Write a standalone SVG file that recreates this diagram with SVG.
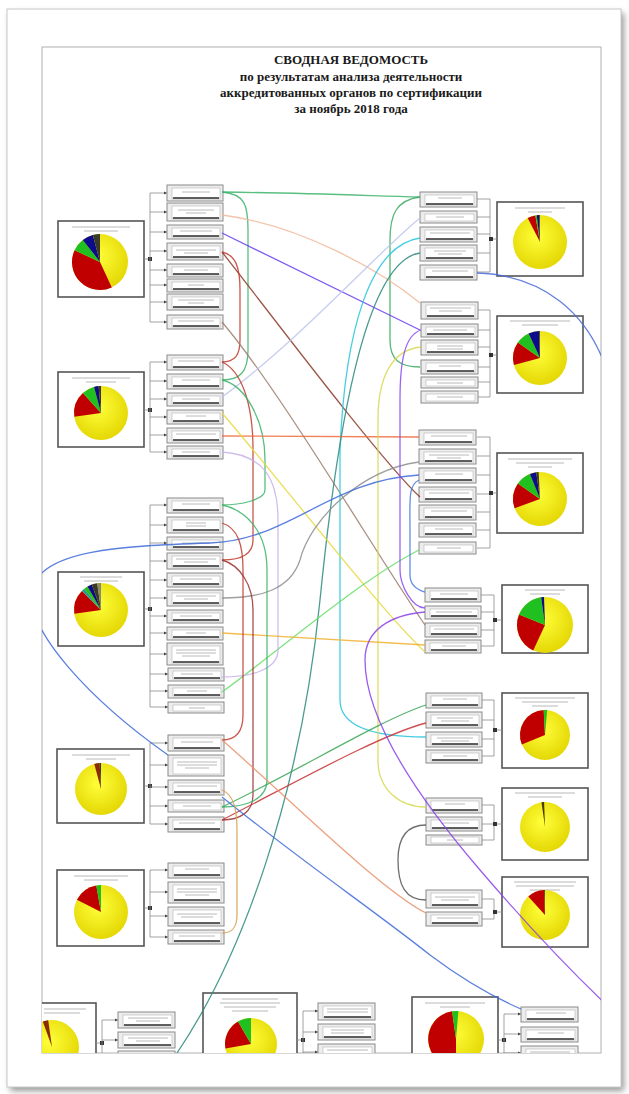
<svg xmlns="http://www.w3.org/2000/svg" width="629" height="1094" viewBox="0 0 629 1094">
<defs>
<style>
.lb{fill:#ededed;stroke:#8a8a8a;stroke-width:1}
.lbi{fill:#fff;stroke:#b4b4b4;stroke-width:.6}
.ul{stroke:#2b2b2b;stroke-width:1.4}
.tx{stroke:#a8a8a8;stroke-width:.8}
.pb{fill:#fff;stroke:#555;stroke-width:1.6}
.tt{stroke:#b8b8b8;stroke-width:1}
.br{fill:none;stroke:#8c8c8c;stroke-width:.8}
.bh{stroke:#8c8c8c;stroke-width:.8;marker-end:url(#ah)}
.sq{fill:#333}
.c{fill:none;stroke-width:1.3;opacity:.85}
.y{fill:url(#yg)}
.r{fill:#c00000}
.g{fill:#21c021}
.n{fill:#0b0b8c}
.d{fill:#3a3a2a}
.t{fill:#2a9a9a}
.bw{fill:#8b2a00}
</style>
<radialGradient id="yg" cx="0.45" cy="0.4" r="0.65">
<stop offset="0" stop-color="#ffff3a"/>
<stop offset="1" stop-color="#e2d400"/>
</radialGradient>
<marker id="ah" viewBox="0 0 6 6" refX="6" refY="3" markerWidth="4" markerHeight="4" orient="auto">
<path d="M0,0 L6,3 L0,6 Z" fill="#444"/>
</marker>
<filter id="sh" x="-5%" y="-5%" width="110%" height="110%">
<feGaussianBlur stdDeviation="3"/>
</filter>
<clipPath id="fc"><rect x="42" y="47" width="559" height="1006"/></clipPath>
</defs>

<rect width="629" height="1094" fill="#fff"/>
<rect x="10" y="13" width="614" height="1078" fill="#9a9a9a" filter="url(#sh)"/>
<rect x="7" y="9" width="614" height="1078" fill="#fff" stroke="#c8c8c8"/>
<rect x="42" y="47" width="559" height="1006" fill="#fff" stroke="#b0b0b0"/>

<g id="title" font-family="Liberation Serif, serif" font-weight="bold" fill="#1a1a1a" text-anchor="middle">
<text x="351" y="64" font-size="13">СВОДНАЯ ВЕДОМОСТЬ</text>
<text x="351" y="81" font-size="13">по результатам анализа деятельности</text>
<text x="351" y="97" font-size="13">аккредитованных органов по сертификации</text>
<text x="351" y="113" font-size="13">за ноябрь 2018 года</text>
</g>

<g clip-path="url(#fc)">
<!-- ===== Left pie nodes ===== -->
<g id="pieL1">
<rect class="pb" x="58" y="221" width="86" height="76"/>
<line class="tt" x1="72" y1="227" x2="130" y2="227"/><line class="tt" x1="84" y1="231" x2="118" y2="231"/>
<circle class="y" cx="100" cy="262" r="28"/>
<path class="r" d="M100,262 L111.8,287.4 A28,28 0 0 1 74.6,250.2 Z"/>
<path class="g" d="M100,262 L74.6,250.2 A28,28 0 0 1 82.8,239.9 Z"/>
<path class="n" d="M100,262 L82.8,239.9 A28,28 0 0 1 92.8,235 Z"/>
<path class="d" d="M100,262 L92.8,235 A28,28 0 0 1 100,234 Z"/>
</g>
<g id="pieL2">
<rect class="pb" x="58" y="372" width="86" height="75"/>
<line class="tt" x1="72" y1="378" x2="130" y2="378"/><line class="tt" x1="86" y1="382" x2="116" y2="382"/>
<circle class="y" cx="101" cy="413" r="27"/>
<path class="r" d="M101,413 L74.3,416.8 A27,27 0 0 1 82.9,392.9 Z"/>
<path class="g" d="M101,413 L82.9,392.9 A27,27 0 0 1 94,386.9 Z"/>
<path class="n" d="M101,413 L94,386.9 A27,27 0 0 1 98.6,386.1 Z"/>
<path class="d" d="M101,413 L98.6,386.1 A27,27 0 0 1 101,386 Z"/>
</g>
<g id="pieL3">
<rect class="pb" x="58" y="572" width="86" height="74"/>
<line class="tt" x1="80" y1="577" x2="122" y2="577"/><line class="tt" x1="84" y1="581" x2="118" y2="581"/>
<circle class="y" cx="101" cy="610" r="27"/>
<path class="r" d="M101,610 L74.3,613.8 A27,27 0 0 1 81.9,590.9 Z"/>
<path class="t" d="M101,610 L81.9,590.9 A27,27 0 0 1 84.4,588.7 Z"/>
<path class="g" d="M101,610 L84.4,588.7 A27,27 0 0 1 87.5,586.6 Z"/>
<path class="n" d="M101,610 L87.5,586.6 A27,27 0 0 1 91.8,584.6 Z"/>
<path class="d" d="M101,610 L91.8,584.6 A27,27 0 0 1 97.2,583.3 Z"/>
<path fill="#8a8a70" d="M101,610 L97.2,583.3 A27,27 0 0 1 101,583 Z"/>
</g>
<g id="pieL4">
<rect class="pb" x="57" y="749" width="87" height="74"/>
<line class="tt" x1="72" y1="755" x2="130" y2="755"/><line class="tt" x1="86" y1="759" x2="116" y2="759"/>
<circle class="y" cx="101" cy="789" r="26"/>
<path class="bw" d="M101,789 L94.3,763.9 A26,26 0 0 1 99.6,763 Z"/>
<path class="d" d="M101,789 L99.6,763 A26,26 0 0 1 101,763 Z"/>
</g>
<g id="pieL5">
<rect class="pb" x="57" y="870" width="87" height="76"/>
<line class="tt" x1="74" y1="876" x2="128" y2="876"/><line class="tt" x1="84" y1="880" x2="118" y2="880"/>
<circle class="y" cx="101" cy="912" r="27"/>
<path class="r" d="M101,912 L76.9,899.7 A27,27 0 0 1 96.3,885.4 Z"/>
<path class="g" d="M101,912 L96.3,885.4 A27,27 0 0 1 101,885 Z"/>
</g>

<!-- ===== Right pie nodes ===== -->
<g id="pieR1">
<rect class="pb" x="497" y="202" width="86" height="74"/>
<line class="tt" x1="515" y1="208" x2="565" y2="208"/><line class="tt" x1="528" y1="212" x2="552" y2="212"/>
<circle class="y" cx="540" cy="242" r="27"/>
<path class="r" d="M540,242 L527.7,217.9 A27,27 0 0 1 535.3,215.4 Z"/>
<path class="g" d="M540,242 L535.3,215.4 A27,27 0 0 1 536.7,215.2 Z"/>
<path class="n" d="M540,242 L536.7,215.2 A27,27 0 0 1 539.1,215 Z"/>
<path class="d" d="M540,242 L539.1,215 A27,27 0 0 1 540,215 Z"/>
</g>
<g id="pieR2">
<rect class="pb" x="497" y="316" width="86" height="77"/>
<line class="tt" x1="510" y1="321" x2="570" y2="321"/><line class="tt" x1="522" y1="325" x2="558" y2="325"/>
<circle class="y" cx="540" cy="358" r="27"/>
<path class="r" d="M540,358 L513.9,365 A27,27 0 0 1 517.9,342.5 Z"/>
<path class="g" d="M540,358 L517.9,342.5 A27,27 0 0 1 528.6,333.5 Z"/>
<path class="n" d="M540,358 L528.6,333.5 A27,27 0 0 1 539.1,331 Z"/>
<path class="d" d="M540,358 L539.1,331 A27,27 0 0 1 540,331 Z"/>
</g>
<g id="pieR3">
<rect class="pb" x="497" y="453" width="86" height="80"/>
<line class="tt" x1="508" y1="459" x2="572" y2="459"/><line class="tt" x1="516" y1="463" x2="564" y2="463"/><line class="tt" x1="528" y1="467" x2="552" y2="467"/>
<circle class="y" cx="540" cy="499" r="27"/>
<path class="r" d="M540,499 L514.6,508.2 A27,27 0 0 1 517.9,483.5 Z"/>
<path class="g" d="M540,499 L517.9,483.5 A27,27 0 0 1 529.9,474 Z"/>
<path class="n" d="M540,499 L529.9,474 A27,27 0 0 1 536.2,472.3 Z"/>
<path class="d" d="M540,499 L536.2,472.3 A27,27 0 0 1 538.6,472 Z"/>
</g>
<g id="pieR4">
<rect class="pb" x="502" y="585" width="86" height="68"/>
<line class="tt" x1="525" y1="590" x2="565" y2="590"/><line class="tt" x1="530" y1="594" x2="560" y2="594"/>
<circle class="y" cx="545" cy="625" r="28"/>
<path class="r" d="M545,625 L533.2,650.4 A28,28 0 0 1 519,614.5 Z"/>
<path class="g" d="M545,625 L519,614.5 A28,28 0 0 1 541.1,597.3 Z"/>
<path class="n" d="M545,625 L541.1,597.3 A28,28 0 0 1 544,597 Z"/>
</g>
<g id="pieR5">
<rect class="pb" x="502" y="693" width="86" height="75"/>
<line class="tt" x1="515" y1="698" x2="575" y2="698"/><line class="tt" x1="522" y1="702" x2="568" y2="702"/><line class="tt" x1="532" y1="706" x2="558" y2="706"/>
<circle class="y" cx="545" cy="735" r="25"/>
<path class="r" d="M545,735 L521.8,744.4 A25,25 0 0 1 543.7,710 Z"/>
<path class="g" d="M545,735 L543.7,710 A25,25 0 0 1 547.2,710.1 Z"/>
</g>
<g id="pieR6">
<rect class="pb" x="502" y="788" width="86" height="72"/>
<line class="tt" x1="515" y1="793" x2="575" y2="793"/><line class="tt" x1="528" y1="797" x2="562" y2="797"/>
<circle class="y" cx="545" cy="827" r="25"/>
<path fill="#4a3a00" d="M545,827 L541.5,802.2 A25,25 0 0 1 544.1,802 Z"/>
</g>
<g id="pieR7">
<rect class="pb" x="502" y="877" width="86" height="70"/>
<line class="tt" x1="514" y1="882" x2="576" y2="882"/><line class="tt" x1="516" y1="886" x2="574" y2="886"/><line class="tt" x1="530" y1="890" x2="560" y2="890"/>
<circle class="y" cx="545" cy="915" r="25"/>
<path class="r" d="M545,915 L528.3,896.4 A25,25 0 0 1 544.1,890 Z"/>
<path class="d" d="M545,915 L544.1,890 A25,25 0 0 1 545,890 Z"/>
</g>

<!-- ===== Bottom pie nodes ===== -->
<g id="pieB1">
<rect class="pb" x="10" y="1003" width="86" height="70"/>
<line class="tt" x1="44" y1="1009" x2="86" y2="1009"/><line class="tt" x1="44" y1="1013" x2="80" y2="1013"/>
<circle class="y" cx="52" cy="1047" r="27"/>
<path class="bw" d="M52,1047 L42.8,1021.6 A27,27 0 0 1 48.2,1020.3 Z"/>
</g>
<g id="pieB2">
<rect class="pb" x="203" y="993" width="94" height="80"/>
<line class="tt" x1="222" y1="999" x2="278" y2="999"/><line class="tt" x1="220" y1="1003" x2="280" y2="1003"/><line class="tt" x1="224" y1="1007" x2="276" y2="1007"/><line class="tt" x1="232" y1="1011" x2="268" y2="1011"/>
<circle class="y" cx="251" cy="1044" r="26"/>
<path class="r" d="M251,1044 L225.4,1048.5 A26,26 0 0 1 238,1021.5 Z"/>
<path class="g" d="M251,1044 L238,1021.5 A26,26 0 0 1 251,1018 Z"/>
</g>
<g id="pieB3">
<rect class="pb" x="412" y="997" width="86" height="76"/>
<line class="tt" x1="425" y1="1003" x2="485" y2="1003"/><line class="tt" x1="440" y1="1007" x2="470" y2="1007"/>
<circle class="y" cx="456" cy="1039" r="28"/>
<path class="r" d="M456,1039 L456,1067 A28,28 0 0 1 452.1,1011.3 Z"/>
<path class="g" d="M456,1039 L452.1,1011.3 A28,28 0 0 1 458.4,1011.1 Z"/>
</g>

<!-- ===== Brackets ===== -->
<g id="brackets">
<line class="br" x1="144" y1="259" x2="150" y2="259"/><rect class="sq" x="148" y="257" width="4" height="4"/>
<line class="br" x1="150" y1="193" x2="150" y2="322"/>
<line class="bh" x1="150" y1="193" x2="167" y2="193"/><line class="bh" x1="150" y1="212" x2="167" y2="212"/><line class="bh" x1="150" y1="232" x2="167" y2="232"/><line class="bh" x1="150" y1="251" x2="167" y2="251"/><line class="bh" x1="150" y1="270" x2="167" y2="270"/><line class="bh" x1="150" y1="285" x2="167" y2="285"/><line class="bh" x1="150" y1="302" x2="167" y2="302"/><line class="bh" x1="150" y1="322" x2="167" y2="322"/>

<line class="br" x1="144" y1="410" x2="150" y2="410"/><rect class="sq" x="148" y="408" width="4" height="4"/>
<line class="br" x1="150" y1="362" x2="150" y2="452"/>
<line class="bh" x1="150" y1="362" x2="167" y2="362"/><line class="bh" x1="150" y1="381" x2="167" y2="381"/><line class="bh" x1="150" y1="399" x2="167" y2="399"/><line class="bh" x1="150" y1="417" x2="167" y2="417"/><line class="bh" x1="150" y1="435" x2="167" y2="435"/><line class="bh" x1="150" y1="452" x2="167" y2="452"/>

<line class="br" x1="144" y1="609" x2="150" y2="609"/><rect class="sq" x="148" y="607" width="4" height="4"/>
<line class="br" x1="150" y1="505" x2="150" y2="707"/>
<line class="bh" x1="150" y1="505" x2="167" y2="505"/><line class="bh" x1="150" y1="525" x2="167" y2="525"/><line class="bh" x1="150" y1="543" x2="167" y2="543"/><line class="bh" x1="150" y1="561" x2="167" y2="561"/><line class="bh" x1="150" y1="580" x2="167" y2="580"/><line class="bh" x1="150" y1="598" x2="167" y2="598"/><line class="bh" x1="150" y1="616" x2="167" y2="616"/><line class="bh" x1="150" y1="633" x2="167" y2="633"/><line class="bh" x1="150" y1="654" x2="167" y2="654"/><line class="bh" x1="150" y1="674" x2="168" y2="674"/><line class="bh" x1="150" y1="691" x2="168" y2="691"/><line class="bh" x1="150" y1="707" x2="168" y2="707"/>

<line class="br" x1="144" y1="786" x2="150" y2="786"/><rect class="sq" x="148" y="784" width="4" height="4"/>
<line class="br" x1="150" y1="743" x2="150" y2="824"/>
<line class="bh" x1="150" y1="743" x2="168" y2="743"/><line class="bh" x1="150" y1="765" x2="168" y2="765"/><line class="bh" x1="150" y1="787" x2="168" y2="787"/><line class="bh" x1="150" y1="806" x2="168" y2="806"/><line class="bh" x1="150" y1="824" x2="168" y2="824"/>

<line class="br" x1="144" y1="908" x2="150" y2="908"/><rect class="sq" x="148" y="906" width="4" height="4"/>
<line class="br" x1="150" y1="870" x2="150" y2="937"/>
<line class="bh" x1="150" y1="870" x2="168" y2="870"/><line class="bh" x1="150" y1="892" x2="168" y2="892"/><line class="bh" x1="150" y1="916" x2="168" y2="916"/><line class="bh" x1="150" y1="937" x2="168" y2="937"/>

<line class="br" x1="477" y1="199" x2="490" y2="199"/><line class="br" x1="477" y1="217" x2="490" y2="217"/><line class="br" x1="477" y1="234" x2="490" y2="234"/><line class="br" x1="477" y1="253" x2="490" y2="253"/><line class="br" x1="477" y1="272" x2="490" y2="272"/>
<line class="br" x1="490" y1="199" x2="490" y2="272"/><line class="br" x1="490" y1="239" x2="497" y2="239"/><rect class="sq" x="489" y="237" width="4" height="4"/>

<line class="br" x1="477" y1="310" x2="490" y2="310"/><line class="br" x1="477" y1="330" x2="490" y2="330"/><line class="br" x1="477" y1="347" x2="490" y2="347"/><line class="br" x1="477" y1="367" x2="490" y2="367"/><line class="br" x1="477" y1="382" x2="490" y2="382"/><line class="br" x1="477" y1="397" x2="490" y2="397"/>
<line class="br" x1="490" y1="310" x2="490" y2="397"/><line class="br" x1="490" y1="355" x2="497" y2="355"/><rect class="sq" x="489" y="353" width="4" height="4"/>

<line class="br" x1="477" y1="437" x2="490" y2="437"/><line class="br" x1="477" y1="456" x2="490" y2="456"/><line class="br" x1="477" y1="475" x2="490" y2="475"/><line class="br" x1="477" y1="494" x2="490" y2="494"/><line class="br" x1="477" y1="512" x2="490" y2="512"/><line class="br" x1="477" y1="530" x2="490" y2="530"/><line class="br" x1="477" y1="548" x2="490" y2="548"/>
<line class="br" x1="490" y1="437" x2="490" y2="548"/><line class="br" x1="490" y1="493" x2="497" y2="493"/><rect class="sq" x="489" y="491" width="4" height="4"/>

<line class="br" x1="481" y1="595" x2="494" y2="595"/><line class="br" x1="481" y1="612" x2="494" y2="612"/><line class="br" x1="481" y1="630" x2="494" y2="630"/><line class="br" x1="481" y1="646" x2="494" y2="646"/>
<line class="br" x1="494" y1="595" x2="494" y2="646"/><line class="br" x1="494" y1="620" x2="502" y2="620"/><rect class="sq" x="493" y="618" width="4" height="4"/>

<line class="br" x1="482" y1="700" x2="494" y2="700"/><line class="br" x1="482" y1="720" x2="494" y2="720"/><line class="br" x1="482" y1="739" x2="494" y2="739"/><line class="br" x1="482" y1="756" x2="494" y2="756"/>
<line class="br" x1="494" y1="700" x2="494" y2="756"/><line class="br" x1="494" y1="730" x2="502" y2="730"/><rect class="sq" x="493" y="728" width="4" height="4"/>

<line class="br" x1="482" y1="805" x2="494" y2="805"/><line class="br" x1="482" y1="824" x2="494" y2="824"/><line class="br" x1="482" y1="840" x2="494" y2="840"/>
<line class="br" x1="494" y1="805" x2="494" y2="840"/><line class="br" x1="494" y1="824" x2="502" y2="824"/><rect class="sq" x="493" y="822" width="4" height="4"/>

<line class="br" x1="482" y1="899" x2="494" y2="899"/><line class="br" x1="482" y1="919" x2="494" y2="919"/>
<line class="br" x1="494" y1="899" x2="494" y2="919"/><line class="br" x1="494" y1="912" x2="502" y2="912"/><rect class="sq" x="493" y="910" width="4" height="4"/>

<line class="br" x1="96" y1="1043" x2="102" y2="1043"/><rect class="sq" x="100" y="1041" width="4" height="4"/>
<line class="br" x1="102" y1="1020" x2="102" y2="1060"/>
<line class="bh" x1="102" y1="1020" x2="118" y2="1020"/><line class="bh" x1="102" y1="1040" x2="118" y2="1040"/>
<line class="br" x1="297" y1="1040" x2="303" y2="1040"/><rect class="sq" x="301" y="1038" width="4" height="4"/>
<line class="br" x1="303" y1="1011" x2="303" y2="1060"/>
<line class="bh" x1="303" y1="1011" x2="318" y2="1011"/><line class="bh" x1="303" y1="1032" x2="318" y2="1032"/><line class="bh" x1="303" y1="1052" x2="318" y2="1052"/>
<line class="br" x1="498" y1="1040" x2="504" y2="1040"/><rect class="sq" x="502" y="1038" width="4" height="4"/>
<line class="br" x1="504" y1="1014" x2="504" y2="1060"/>
<line class="bh" x1="504" y1="1014" x2="521" y2="1014"/><line class="bh" x1="504" y1="1034" x2="521" y2="1034"/><line class="bh" x1="504" y1="1053" x2="521" y2="1053"/>
</g>

<!-- ===== List boxes, left ===== -->
<g id="listL1">
<g id="L1a"><rect class="lb" x="167" y="185" width="56" height="16"/><rect class="lbi" x="172" y="188" width="48" height="11"/><line class="tx" x1="182" y1="192" x2="210" y2="192"/><line class="ul" x1="173" y1="198" x2="219" y2="198"/></g>
<g id="L1b"><rect class="lb" x="167" y="203" width="56" height="18"/><rect class="lbi" x="172" y="206" width="48" height="13"/><line class="tx" x1="178" y1="210" x2="214" y2="210"/><line class="tx" x1="186" y1="213" x2="206" y2="213"/><line class="ul" x1="173" y1="218" x2="219" y2="218"/></g>
<g id="L1c"><rect class="lb" x="167" y="225" width="56" height="14"/><rect class="lbi" x="172" y="228" width="48" height="9"/><line class="tx" x1="180" y1="231" x2="212" y2="231"/><line class="ul" x1="173" y1="236" x2="219" y2="236"/></g>
<g id="L1d"><rect class="lb" x="167" y="243" width="56" height="17"/><rect class="lbi" x="172" y="246" width="48" height="12"/><line class="tx" x1="176" y1="250" x2="216" y2="250"/><line class="tx" x1="184" y1="253" x2="208" y2="253"/><line class="ul" x1="173" y1="257" x2="219" y2="257"/></g>
<g id="L1e"><rect class="lb" x="167" y="264" width="56" height="13"/><rect class="lbi" x="172" y="267" width="48" height="8"/><line class="tx" x1="184" y1="270" x2="208" y2="270"/><line class="ul" x1="173" y1="274" x2="219" y2="274"/></g>
<g id="L1f"><rect class="lb" x="167" y="279" width="56" height="13"/><rect class="lbi" x="172" y="282" width="48" height="8"/><line class="tx" x1="188" y1="285" x2="204" y2="285"/><line class="ul" x1="173" y1="289" x2="219" y2="289"/></g>
<g id="L1g"><rect class="lb" x="167" y="294" width="56" height="16"/><rect class="lbi" x="172" y="297" width="48" height="11"/><line class="tx" x1="178" y1="300" x2="214" y2="300"/><line class="tx" x1="188" y1="303" x2="204" y2="303"/><line class="ul" x1="173" y1="307" x2="219" y2="307"/></g>
<g id="L1h"><rect class="lb" x="167" y="315" width="56" height="14"/><rect class="lbi" x="172" y="318" width="48" height="9"/><line class="tx" x1="178" y1="321" x2="214" y2="321"/><line class="ul" x1="173" y1="326" x2="219" y2="326"/></g>
</g>
<g id="listL2">
<g><rect class="lb" x="167" y="355" width="56" height="15"/><rect class="lbi" x="172" y="358" width="48" height="10"/><line class="tx" x1="178" y1="361" x2="214" y2="361"/><line class="ul" x1="173" y1="367" x2="219" y2="367"/></g>
<g><rect class="lb" x="167" y="374" width="56" height="15"/><rect class="lbi" x="172" y="377" width="48" height="10"/><line class="tx" x1="182" y1="380" x2="210" y2="380"/><line class="ul" x1="173" y1="386" x2="219" y2="386"/></g>
<g><rect class="lb" x="167" y="393" width="56" height="13"/><rect class="lbi" x="172" y="396" width="48" height="8"/><line class="tx" x1="182" y1="399" x2="210" y2="399"/><line class="ul" x1="173" y1="403" x2="219" y2="403"/></g>
<g><rect class="lb" x="167" y="410" width="56" height="14"/><rect class="lbi" x="172" y="413" width="48" height="9"/><line class="tx" x1="186" y1="416" x2="206" y2="416"/><line class="ul" x1="173" y1="421" x2="219" y2="421"/></g>
<g><rect class="lb" x="167" y="428" width="56" height="15"/><rect class="lbi" x="172" y="431" width="48" height="10"/><line class="tx" x1="176" y1="434" x2="216" y2="434"/><line class="ul" x1="173" y1="440" x2="219" y2="440"/></g>
<g><rect class="lb" x="167" y="446" width="56" height="13"/><rect class="lbi" x="172" y="449" width="48" height="8"/><line class="tx" x1="182" y1="452" x2="210" y2="452"/><line class="ul" x1="173" y1="456" x2="219" y2="456"/></g>
</g>
<g id="listL3">
<g><rect class="lb" x="167" y="498" width="56" height="15"/><rect class="lbi" x="172" y="501" width="48" height="10"/><line class="tx" x1="182" y1="504" x2="210" y2="504"/><line class="ul" x1="173" y1="510" x2="219" y2="510"/></g>
<g><rect class="lb" x="167" y="517" width="56" height="16"/><rect class="lbi" x="172" y="520" width="48" height="11"/><line class="tx" x1="186" y1="523" x2="206" y2="523"/><line class="tx" x1="186" y1="526" x2="206" y2="526"/><line class="ul" x1="173" y1="530" x2="219" y2="530"/></g>
<g><rect class="lb" x="167" y="537" width="56" height="13"/><rect class="lbi" x="172" y="540" width="48" height="8"/><line class="tx" x1="182" y1="543" x2="210" y2="543"/><line class="ul" x1="173" y1="547" x2="219" y2="547"/></g>
<g><rect class="lb" x="167" y="553" width="56" height="16"/><rect class="lbi" x="172" y="556" width="48" height="11"/><line class="tx" x1="176" y1="559" x2="216" y2="559"/><line class="tx" x1="184" y1="562" x2="208" y2="562"/><line class="ul" x1="173" y1="566" x2="219" y2="566"/></g>
<g><rect class="lb" x="167" y="573" width="56" height="14"/><rect class="lbi" x="172" y="576" width="48" height="9"/><line class="tx" x1="180" y1="579" x2="212" y2="579"/><line class="ul" x1="173" y1="584" x2="219" y2="584"/></g>
<g><rect class="lb" x="167" y="590" width="56" height="16"/><rect class="lbi" x="172" y="593" width="48" height="11"/><line class="tx" x1="176" y1="596" x2="216" y2="596"/><line class="tx" x1="184" y1="599" x2="208" y2="599"/><line class="ul" x1="173" y1="603" x2="219" y2="603"/></g>
<g><rect class="lb" x="167" y="610" width="56" height="13"/><rect class="lbi" x="172" y="613" width="48" height="8"/><line class="tx" x1="180" y1="616" x2="212" y2="616"/><line class="ul" x1="173" y1="620" x2="219" y2="620"/></g>
<g><rect class="lb" x="167" y="627" width="56" height="13"/><rect class="lbi" x="172" y="630" width="48" height="8"/><line class="tx" x1="186" y1="633" x2="206" y2="633"/><line class="ul" x1="173" y1="637" x2="219" y2="637"/></g>
<g><rect class="lb" x="167" y="643" width="56" height="22"/><rect class="lbi" x="172" y="646" width="48" height="17"/><line class="tx" x1="176" y1="650" x2="216" y2="650"/><line class="tx" x1="176" y1="653" x2="216" y2="653"/><line class="tx" x1="182" y1="656" x2="210" y2="656"/><line class="ul" x1="173" y1="662" x2="219" y2="662"/></g>
<g><rect class="lb" x="168" y="668" width="56" height="13"/><rect class="lbi" x="173" y="671" width="48" height="8"/><line class="tx" x1="181" y1="674" x2="213" y2="674"/><line class="ul" x1="174" y1="678" x2="220" y2="678"/></g>
<g><rect class="lb" x="168" y="685" width="56" height="13"/><rect class="lbi" x="173" y="688" width="48" height="8"/><line class="tx" x1="187" y1="691" x2="207" y2="691"/><line class="ul" x1="174" y1="695" x2="220" y2="695"/></g>
<g><rect class="lb" x="168" y="702" width="56" height="11"/><rect class="lbi" x="173" y="705" width="48" height="6"/><line class="tx" x1="189" y1="708" x2="205" y2="708"/></g>
</g>
<g id="listL4">
<g><rect class="lb" x="168" y="735" width="56" height="16"/><rect class="lbi" x="173" y="738" width="48" height="11"/><line class="tx" x1="181" y1="742" x2="213" y2="742"/><line class="ul" x1="174" y1="748" x2="220" y2="748"/></g>
<g><rect class="lb" x="168" y="755" width="56" height="21"/><rect class="lbi" x="173" y="758" width="48" height="16"/><line class="tx" x1="177" y1="762" x2="217" y2="762"/><line class="tx" x1="177" y1="765" x2="217" y2="765"/><line class="tx" x1="185" y1="768" x2="209" y2="768"/></g>
<g><rect class="lb" x="168" y="780" width="56" height="15"/><rect class="lbi" x="173" y="783" width="48" height="10"/><line class="tx" x1="177" y1="786" x2="217" y2="786"/><line class="ul" x1="174" y1="792" x2="220" y2="792"/></g>
<g><rect class="lb" x="168" y="800" width="56" height="12"/><rect class="lbi" x="173" y="803" width="48" height="7"/><line class="tx" x1="183" y1="806" x2="211" y2="806"/></g>
<g><rect class="lb" x="168" y="817" width="56" height="15"/><rect class="lbi" x="173" y="820" width="48" height="10"/><line class="tx" x1="179" y1="823" x2="215" y2="823"/><line class="ul" x1="174" y1="829" x2="220" y2="829"/></g>
</g>
<g id="listL5">
<g><rect class="lb" x="168" y="863" width="56" height="15"/><rect class="lbi" x="173" y="866" width="48" height="10"/><line class="tx" x1="185" y1="869" x2="209" y2="869"/><line class="ul" x1="174" y1="875" x2="220" y2="875"/></g>
<g><rect class="lb" x="168" y="882" width="56" height="21"/><rect class="lbi" x="173" y="885" width="48" height="16"/><line class="tx" x1="177" y1="889" x2="217" y2="889"/><line class="tx" x1="177" y1="892" x2="217" y2="892"/><line class="tx" x1="185" y1="895" x2="209" y2="895"/><line class="ul" x1="174" y1="900" x2="220" y2="900"/></g>
<g><rect class="lb" x="168" y="907" width="56" height="19"/><rect class="lbi" x="173" y="910" width="48" height="14"/><line class="tx" x1="177" y1="914" x2="217" y2="914"/><line class="tx" x1="181" y1="917" x2="213" y2="917"/><line class="ul" x1="174" y1="923" x2="220" y2="923"/></g>
<g><rect class="lb" x="168" y="930" width="56" height="14"/><rect class="lbi" x="173" y="933" width="48" height="9"/><line class="tx" x1="179" y1="936" x2="215" y2="936"/><line class="ul" x1="174" y1="941" x2="220" y2="941"/></g>
</g>

<!-- ===== List boxes, right ===== -->
<g id="listR1">
<g><rect class="lb" x="420" y="192" width="57" height="15"/><rect class="lbi" x="425" y="195" width="49" height="10"/><line class="tx" x1="438" y1="198" x2="462" y2="198"/><line class="ul" x1="426" y1="204" x2="473" y2="204"/></g>
<g><rect class="lb" x="420" y="211" width="57" height="12"/><rect class="lbi" x="425" y="214" width="49" height="7"/><line class="tx" x1="436" y1="217" x2="464" y2="217"/></g>
<g><rect class="lb" x="420" y="227" width="57" height="15"/><rect class="lbi" x="425" y="230" width="49" height="10"/><line class="tx" x1="430" y1="233" x2="470" y2="233"/><line class="ul" x1="426" y1="239" x2="473" y2="239"/></g>
<g><rect class="lb" x="420" y="245" width="57" height="16"/><rect class="lbi" x="425" y="248" width="49" height="11"/><line class="tx" x1="434" y1="251" x2="466" y2="251"/><line class="tx" x1="438" y1="254" x2="462" y2="254"/><line class="ul" x1="426" y1="258" x2="473" y2="258"/></g>
<g><rect class="lb" x="420" y="265" width="57" height="15"/><rect class="lbi" x="425" y="268" width="49" height="10"/><line class="tx" x1="432" y1="271" x2="468" y2="271"/><line class="ul" x1="426" y1="277" x2="473" y2="277"/></g>
</g>
<g id="listR2">
<g><rect class="lb" x="421" y="302" width="57" height="17"/><rect class="lbi" x="426" y="305" width="49" height="12"/><line class="tx" x1="430" y1="308" x2="471" y2="308"/><line class="tx" x1="439" y1="311" x2="462" y2="311"/><line class="ul" x1="427" y1="316" x2="474" y2="316"/></g>
<g><rect class="lb" x="421" y="324" width="57" height="13"/><rect class="lbi" x="426" y="327" width="49" height="8"/><line class="tx" x1="433" y1="330" x2="467" y2="330"/><line class="ul" x1="427" y1="334" x2="474" y2="334"/></g>
<g><rect class="lb" x="421" y="340" width="57" height="15"/><rect class="lbi" x="426" y="343" width="49" height="10"/><line class="tx" x1="437" y1="346" x2="463" y2="346"/><line class="tx" x1="437" y1="349" x2="463" y2="349"/><line class="ul" x1="427" y1="352" x2="474" y2="352"/></g>
<g><rect class="lb" x="421" y="360" width="57" height="14"/><rect class="lbi" x="426" y="363" width="49" height="9"/><line class="tx" x1="439" y1="366" x2="461" y2="366"/><line class="ul" x1="427" y1="371" x2="474" y2="371"/></g>
<g><rect class="lb" x="421" y="377" width="57" height="11"/><rect class="lbi" x="426" y="380" width="49" height="6"/><line class="tx" x1="437" y1="383" x2="463" y2="383"/></g>
<g><rect class="lb" x="421" y="391" width="57" height="12"/><rect class="lbi" x="426" y="394" width="49" height="7"/><line class="tx" x1="437" y1="397" x2="463" y2="397"/></g>
</g>
<g id="listR3">
<g><rect class="lb" x="419" y="430" width="57" height="15"/><rect class="lbi" x="424" y="433" width="49" height="10"/><line class="tx" x1="431" y1="436" x2="467" y2="436"/><line class="ul" x1="425" y1="442" x2="472" y2="442"/></g>
<g><rect class="lb" x="419" y="449" width="57" height="15"/><rect class="lbi" x="424" y="452" width="49" height="10"/><line class="tx" x1="429" y1="455" x2="469" y2="455"/><line class="tx" x1="437" y1="458" x2="461" y2="458"/><line class="ul" x1="425" y1="461" x2="472" y2="461"/></g>
<g><rect class="lb" x="419" y="468" width="57" height="15"/><rect class="lbi" x="424" y="471" width="49" height="10"/><line class="tx" x1="435" y1="474" x2="463" y2="474"/><line class="ul" x1="425" y1="480" x2="472" y2="480"/></g>
<g><rect class="lb" x="419" y="487" width="57" height="15"/><rect class="lbi" x="424" y="490" width="49" height="10"/><line class="tx" x1="429" y1="493" x2="469" y2="493"/><line class="ul" x1="425" y1="499" x2="472" y2="499"/></g>
<g><rect class="lb" x="419" y="505" width="57" height="15"/><rect class="lbi" x="424" y="508" width="49" height="10"/><line class="tx" x1="431" y1="511" x2="467" y2="511"/><line class="ul" x1="425" y1="517" x2="472" y2="517"/></g>
<g><rect class="lb" x="419" y="523" width="57" height="14"/><rect class="lbi" x="424" y="526" width="49" height="9"/><line class="tx" x1="435" y1="529" x2="463" y2="529"/><line class="ul" x1="425" y1="534" x2="472" y2="534"/></g>
<g><rect class="lb" x="419" y="542" width="57" height="12"/><rect class="lbi" x="424" y="545" width="49" height="7"/><line class="tx" x1="437" y1="548" x2="461" y2="548"/></g>
</g>
<g id="listR4">
<g><rect class="lb" x="425" y="588" width="56" height="14"/><rect class="lbi" x="430" y="591" width="48" height="9"/><line class="tx" x1="440" y1="594" x2="468" y2="594"/><line class="ul" x1="431" y1="599" x2="477" y2="599"/></g>
<g><rect class="lb" x="425" y="606" width="56" height="13"/><rect class="lbi" x="430" y="609" width="48" height="8"/><line class="tx" x1="436" y1="612" x2="472" y2="612"/><line class="ul" x1="431" y1="616" x2="477" y2="616"/></g>
<g><rect class="lb" x="425" y="623" width="56" height="14"/><rect class="lbi" x="430" y="626" width="48" height="9"/><line class="tx" x1="434" y1="629" x2="474" y2="629"/><line class="ul" x1="431" y1="634" x2="477" y2="634"/></g>
<g><rect class="lb" x="425" y="640" width="56" height="13"/><rect class="lbi" x="430" y="643" width="48" height="8"/><line class="tx" x1="442" y1="646" x2="466" y2="646"/><line class="ul" x1="431" y1="650" x2="477" y2="650"/></g>
</g>
<g id="listR5">
<g><rect class="lb" x="426" y="693" width="56" height="15"/><rect class="lbi" x="431" y="696" width="48" height="10"/><line class="tx" x1="443" y1="699" x2="467" y2="699"/><line class="ul" x1="432" y1="705" x2="478" y2="705"/></g>
<g><rect class="lb" x="426" y="712" width="56" height="16"/><rect class="lbi" x="431" y="715" width="48" height="11"/><line class="tx" x1="437" y1="718" x2="473" y2="718"/><line class="tx" x1="441" y1="721" x2="469" y2="721"/><line class="ul" x1="432" y1="725" x2="478" y2="725"/></g>
<g><rect class="lb" x="426" y="732" width="56" height="15"/><rect class="lbi" x="431" y="735" width="48" height="10"/><line class="tx" x1="437" y1="738" x2="473" y2="738"/><line class="tx" x1="441" y1="741" x2="469" y2="741"/><line class="ul" x1="432" y1="744" x2="478" y2="744"/></g>
<g><rect class="lb" x="426" y="750" width="56" height="13"/><rect class="lbi" x="431" y="753" width="48" height="8"/><line class="tx" x1="443" y1="756" x2="467" y2="756"/><line class="ul" x1="432" y1="760" x2="478" y2="760"/></g>
</g>
<g id="listR6">
<g><rect class="lb" x="426" y="798" width="56" height="15"/><rect class="lbi" x="431" y="801" width="48" height="10"/><line class="tx" x1="445" y1="804" x2="465" y2="804"/><line class="ul" x1="432" y1="810" x2="478" y2="810"/></g>
<g><rect class="lb" x="426" y="817" width="56" height="14"/><rect class="lbi" x="431" y="820" width="48" height="9"/><line class="tx" x1="441" y1="823" x2="469" y2="823"/><line class="ul" x1="432" y1="828" x2="478" y2="828"/></g>
<g><rect class="lb" x="426" y="835" width="56" height="10"/><rect class="lbi" x="431" y="837" width="48" height="6"/><line class="tx" x1="447" y1="840" x2="463" y2="840"/></g>
</g>
<g id="listR7">
<g><rect class="lb" x="426" y="890" width="56" height="18"/><rect class="lbi" x="431" y="893" width="48" height="13"/><line class="tx" x1="435" y1="897" x2="475" y2="897"/><line class="tx" x1="441" y1="900" x2="469" y2="900"/><line class="ul" x1="432" y1="905" x2="478" y2="905"/></g>
<g><rect class="lb" x="426" y="912" width="56" height="14"/><rect class="lbi" x="431" y="915" width="48" height="9"/><line class="tx" x1="437" y1="918" x2="473" y2="918"/><line class="ul" x1="432" y1="923" x2="478" y2="923"/></g>
</g>

<!-- ===== List boxes, bottom ===== -->
<g id="listB1">
<g><rect class="lb" x="118" y="1012" width="57" height="16"/><rect class="lbi" x="123" y="1015" width="49" height="11"/><line class="tx" x1="128" y1="1018" x2="168" y2="1018"/><line class="tx" x1="136" y1="1021" x2="160" y2="1021"/><line class="ul" x1="124" y1="1025" x2="171" y2="1025"/></g>
<g><rect class="lb" x="118" y="1032" width="57" height="16"/><rect class="lbi" x="123" y="1035" width="49" height="11"/><line class="tx" x1="128" y1="1038" x2="168" y2="1038"/><line class="tx" x1="136" y1="1041" x2="160" y2="1041"/><line class="ul" x1="124" y1="1045" x2="171" y2="1045"/></g>
<g><rect class="lb" x="118" y="1051" width="57" height="16"/></g>
</g>
<g id="listB2">
<g><rect class="lb" x="318" y="1003" width="57" height="17"/><rect class="lbi" x="323" y="1006" width="49" height="12"/><line class="tx" x1="327" y1="1009" x2="368" y2="1009"/><line class="tx" x1="327" y1="1012" x2="368" y2="1012"/><line class="ul" x1="324" y1="1017" x2="371" y2="1017"/></g>
<g><rect class="lb" x="318" y="1024" width="57" height="16"/><rect class="lbi" x="323" y="1027" width="49" height="11"/><line class="tx" x1="331" y1="1030" x2="364" y2="1030"/><line class="tx" x1="331" y1="1033" x2="364" y2="1033"/><line class="ul" x1="324" y1="1037" x2="371" y2="1037"/></g>
<g><rect class="lb" x="318" y="1044" width="57" height="16"/><rect class="lbi" x="323" y="1047" width="49" height="11"/><line class="tx" x1="327" y1="1050" x2="368" y2="1050"/></g>
</g>
<g id="listB3">
<g><rect class="lb" x="521" y="1007" width="57" height="15"/><rect class="lbi" x="526" y="1010" width="49" height="10"/><line class="tx" x1="536" y1="1013" x2="566" y2="1013"/><line class="ul" x1="527" y1="1019" x2="574" y2="1019"/></g>
<g><rect class="lb" x="521" y="1027" width="57" height="15"/><rect class="lbi" x="526" y="1030" width="49" height="10"/><line class="tx" x1="538" y1="1033" x2="564" y2="1033"/><line class="ul" x1="527" y1="1039" x2="574" y2="1039"/></g>
<g><rect class="lb" x="521" y="1046" width="57" height="15"/><rect class="lbi" x="526" y="1049" width="49" height="10"/><line class="tx" x1="530" y1="1052" x2="570" y2="1052"/></g>
</g>

<!-- ===== Connectors ===== -->
<g id="connectors">
<path class="c" stroke="#3cb36a" d="M222,192 C300,193 350,195 420,197"/>
<path class="c" stroke="#3cb36a" d="M222,192 C245,194 248,205 248,230 L248,350 C248,372 240,380 222,380"/>
<path class="c" stroke="#3aa860" d="M420,197 C396,200 390,215 390,240 L390,340 C390,360 400,367 420,367"/>
<path class="c" stroke="#f2b89c" d="M222,215 C300,225 380,270 420,303"/>
<path class="c" stroke="#6a3df0" stroke-width="1.6" d="M222,233 L420,330"/>
<path class="c" stroke="#8b3a2a" d="M222,252 C260,300 380,460 420,497"/>
<path class="c" stroke="#c0392b" d="M222,252 C236,255 240,268 240,290 L240,340 C240,355 235,362 222,362"/>
<path class="c" stroke="#9a7b6a" d="M222,322 C280,390 380,560 425,625"/>
<path class="c" stroke="#bcc4ec" d="M222,397 C300,340 380,250 420,218"/>
<path class="c" stroke="#26c6da" d="M420,238 C370,245 345,330 340,450 L340,700 C340,725 370,737 426,737"/>
<path class="c" stroke="#2a8a7a" d="M420,253 C370,260 340,400 320,600 C300,800 240,960 177,1053"/>
<path class="c" stroke="#c0392b" d="M222,362 C240,370 253,400 253,450 L253,540 C253,555 240,560 222,560"/>
<path class="c" stroke="#3cb36a" d="M222,380 C245,385 265,420 265,460 L265,490 C265,500 240,505 222,505"/>
<path class="c" stroke="#ee6a3a" d="M222,436 L419,437"/>
<path class="c" stroke="#e6d83a" d="M222,413 C280,480 380,610 425,652"/>
<path class="c" stroke="#d8d850" d="M421,347 C390,350 378,380 378,420 L378,760 C378,790 400,807 426,807"/>
<path class="c" stroke="#66dd66" d="M222,692 C280,650 360,580 419,550"/>
<path class="c" stroke="#c7b3ea" d="M222,452 C265,455 278,480 278,520 L278,650 C278,670 250,677 222,677"/>
<path class="c" stroke="#8e8e8e" d="M419,462 C360,470 310,520 300,560 C290,590 260,598 222,598"/>
<path class="c" stroke="#3f6ad8" stroke-width="1.6" d="M419,475 C330,480 290,540 210,543 C120,546 40,550 32,590 C25,630 90,700 168,755"/>
<path class="c" stroke="#4a7ae0" d="M419,480 C408,485 410,500 410,530 L410,575 C410,585 418,590 425,592"/>
<path class="c" stroke="#4a6ad8" d="M477,273 C540,275 590,310 610,380"/>
<path class="c" stroke="#f0b030" d="M222,633 L425,645"/>
<path class="c" stroke="#c0392b" d="M222,523 C238,528 243,545 243,570 L243,715 C243,732 235,740 222,740"/>
<path class="c" stroke="#9a3030" d="M222,560 C240,565 253,585 253,610 L253,795 C253,812 240,820 222,820"/>
<path class="c" stroke="#3cb36a" d="M222,505 C245,510 267,530 267,570 L267,780 C267,800 245,807 222,807"/>
<path class="c" stroke="#3aa655" d="M222,807 C300,770 380,720 426,705"/>
<path class="c" stroke="#c43030" stroke-width="1.5" d="M222,820 C300,780 380,735 426,723"/>
<path class="c" stroke="#e8906a" d="M222,740 C280,790 380,890 426,913"/>
<path class="c" stroke="#3f6ad8" stroke-width="1.5" d="M222,797 C300,860 380,915 430,955 C470,985 500,1000 521,1009"/>
<path class="c" stroke="#555" d="M426,825 C405,825 398,840 398,860 C398,885 405,900 426,900"/>
<path class="c" stroke="#d9a050" d="M222,790 C234,795 237,810 237,830 L237,915 C237,928 232,933 222,933"/>
<path class="c" stroke="#8a4af0" stroke-width="1.5" d="M421,330 C405,335 400,360 400,400 L400,570 C400,585 412,608 425,608"/>
<path class="c" stroke="#8a40e8" stroke-width="1.5" d="M425,612 C390,615 365,630 365,660 C365,720 420,800 480,870 C540,940 580,980 612,1010"/>
</g>
</g>
</svg>
